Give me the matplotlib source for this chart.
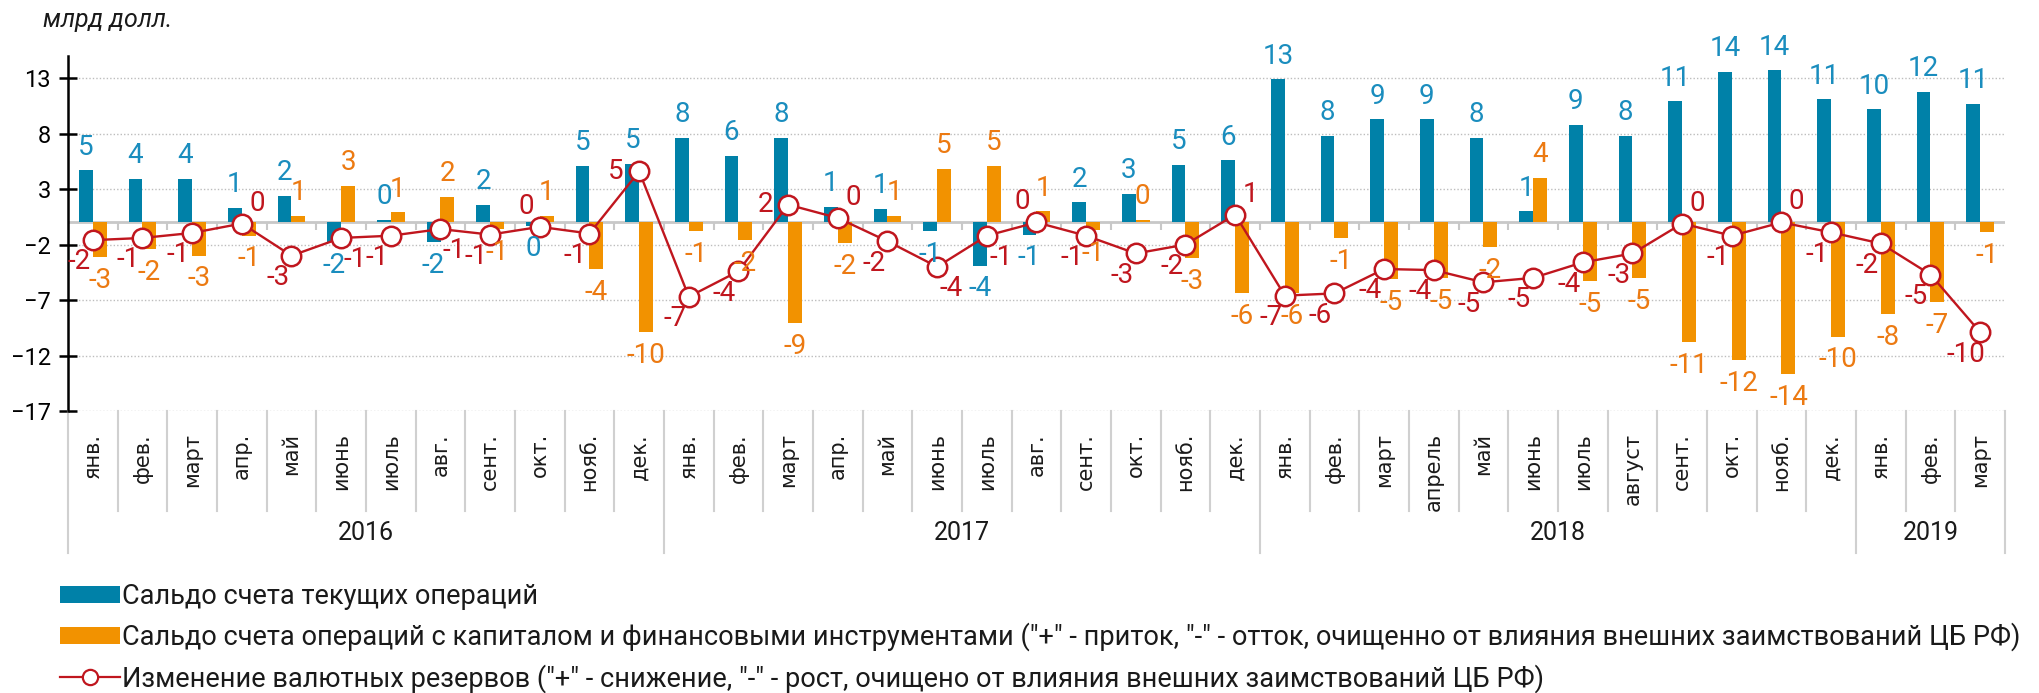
import numpy as np
import matplotlib
matplotlib.use('Agg')
from matplotlib import pyplot as plt
from matplotlib import font_manager
from matplotlib import transforms as mtransforms
from matplotlib.lines import Line2D
from matplotlib.patches import Patch


def pick_font(names):
    """Return the first installed family out of names."""
    for name in names:
        try:
            font_manager.findfont(name, fallback_to_default=False)
            return name
        except ValueError:
            continue
    return 'DejaVu Sans'


NARROW = pick_font(['Liberation Sans Narrow', 'Roboto', 'Open Sans'])
plt.rcParams['font.family'] = [NARROW, 'DejaVu Sans']

# --- data (млрд долл.) ---
years = ['2016', '2017', '2018', '2019']
year_len = [12, 12, 12, 3]
months = ['янв.', 'фев.', 'март', 'апр.', 'май', 'июнь', 'июль', 'авг.',
          'сент.', 'окт.', 'нояб.', 'дек.',
          'янв.', 'фев.', 'март', 'апр.', 'май', 'июнь', 'июль', 'авг.',
          'сент.', 'окт.', 'нояб.', 'дек.',
          'янв.', 'фев.', 'март', 'апрель', 'май', 'июнь', 'июль', 'август',
          'сент.', 'окт.', 'нояб.', 'дек.',
          'янв.', 'фев.', 'март']
current = [4.7, 3.9, 3.9, 1.3, 2.4, -1.8, 0.25, -1.8, 1.6, -0.3, 5.1, 5.3,
           7.6, 6.0, 7.6, 1.4, 1.2, -0.8, -3.9, -1.1, 1.8, 2.6, 5.2, 5.6,
           12.9, 7.8, 9.3, 9.3, 7.6, 1.0, 8.8, 7.8, 10.9, 13.6, 13.7, 11.1,
           10.2, 11.8, 10.7]
capital = [-3.1, -2.4, -3.0, -1.2, 0.6, 3.3, 0.9, 2.3, -0.6, 0.6, -4.2, -9.9,
           -0.8, -1.6, -9.1, -1.9, 0.6, 4.8, 5.1, 1.0, -0.7, 0.2, -3.2, -6.4,
           -6.4, -1.4, -5.1, -5.0, -2.2, 4.0, -5.3, -5.0, -10.8, -12.4, -13.7,
           -10.3, -8.3, -7.2, -0.9]
reserves = [-1.6, -1.4, -0.95, -0.1, -3.0, -1.4, -1.2, -0.6, -1.1, -0.4, -1.0,
            4.6,
            -6.7, -4.4, 1.6, 0.4, -1.7, -4.0, -1.2, 0.0, -1.2, -2.8, -2.0, 0.7,
            -6.6, -6.4, -4.2, -4.3, -5.4, -5.0, -3.6, -2.8, -0.1, -1.2, 0.0,
            -0.9,
            -1.9, -4.7, -9.9]
y_ticks = [13, 8, 3, -2, -7, -12, -17]

legend_labels = [
    'Сальдо счета текущих операций',
    'Сальдо счета операций с капиталом и финансовыми инструментами '
    '("+" - приток, "-" - отток, очищенно от влияния внешних '
    'заимствований ЦБ РФ)',
    'Изменение валютных резервов ("+" - снижение, "-" - рост, очищено от '
    'влияния внешних заимствований ЦБ РФ)',
]

BLUE = '#0081A8'
ORANGE = '#F29200'
RED = '#C0161E'
BLUE_TXT = '#1A8DBE'
ORANGE_TXT = '#EC7A12'

fig = plt.figure(figsize=(20.4, 6.93), dpi=100)
ax = fig.add_axes([68 / 2040, 1 - 411 / 693, (2005 - 68) / 2040, 355 / 693])

n = len(months)
x = np.arange(n)
bw = 0.28

ax.bar(x - bw / 2, current, width=bw, color=BLUE, zorder=3)
ax.bar(x + bw / 2, capital, width=bw, color=ORANGE, zorder=3)
ax.plot(x, reserves, color=RED, lw=1.7, marker='o', ms=14,
        mfc='white', mec=RED, mew=1.8, zorder=5)

ax.set_xlim(-0.5, n - 0.5)
ax.set_ylim(-17, 15)

# grid + zero line
for yt in y_ticks:
    ax.axhline(yt, color='#BDBDBD', lw=1, ls=(0, (1, 1.5)), zorder=1)
ax.axhline(0, color='#C8C8C8', lw=2, zorder=2)
bounds = np.arange(n + 1) - 0.5
ax.vlines(bounds[1:-1], -0.7, 0, color='#C8C8C8', lw=1.5, zorder=2)

# y axis
for side in ['top', 'right', 'bottom']:
    ax.spines[side].set_visible(False)
ax.spines['left'].set_linewidth(1.8)
ax.set_yticks(y_ticks)
ax.tick_params(axis='y', direction='inout', length=13, width=1.8,
               labelsize=17, pad=6)
ax.set_xticks([])


# data labels
def fmt(v):
    return f'{int(round(v))}'


for xi, v in zip(x, current):
    up = v >= 0
    ax.annotate(fmt(v), (xi - bw / 2, v), xytext=(0, 7 if up else -7),
                textcoords='offset points', ha='center',
                va='bottom' if up else 'top', color=BLUE_TXT, fontsize=20,
                zorder=6)
for xi, v in zip(x, capital):
    up = v >= 0
    ax.annotate(fmt(v), (xi + bw / 2, v), xytext=(0, 7 if up else -7),
                textcoords='offset points', ha='center',
                va='bottom' if up else 'top', color=ORANGE_TXT, fontsize=20,
                zorder=6)
# red labels sit on the side that is free of the bar labels
for xi, v, cur, cap in zip(x, reserves, current, capital):
    r = int(round(v))
    if r > 0 and v >= 1.5:
        off, ha, va = (-11, 0), 'right', 'center'
    elif r >= 0:
        off, ha, va = ((-10, 5), 'center', 'bottom') if cap > 0 \
            else ((11, 5), 'center', 'bottom')
    else:
        off, ha, va = ((10, -6), 'center', 'top') if cur < 0 \
            else ((-10, -6), 'center', 'top')
    ax.annotate(fmt(v), (xi, v), xytext=off, textcoords='offset points',
                ha=ha, va=va, color=RED, fontsize=20, zorder=6)

# category axis below the plot
trans = mtransforms.blended_transform_factory(ax.transData, ax.transAxes)
year_edges = np.concatenate([[0], np.cumsum(year_len)]) - 0.5
for b in bounds:
    is_year = np.any(np.isclose(year_edges, b))
    ax.plot([b, b], [0, -0.40 if is_year else -0.282], transform=trans,
            color='#D0D0D0', lw=1.5, clip_on=False)
for xi, m in zip(x, months):
    ax.text(xi, -0.062, m, transform=trans, rotation=90, ha='center',
            va='top', fontsize=15, family='DejaVu Sans', color='#1A1A1A')
for i, yr in enumerate(years):
    mid = (year_edges[i] + year_edges[i + 1]) / 2
    ax.text(mid, -0.344, yr, transform=trans, ha='center', va='center',
            fontsize=18, color='#1A1A1A')

fig.text(43 / 2040, 1 - 20 / 693, 'млрд долл.', style='italic', fontsize=18,
         va='center', ha='left', color='#1A1A1A')

handles = [
    Patch(facecolor=BLUE, edgecolor='none'),
    Patch(facecolor=ORANGE, edgecolor='none'),
    Line2D([], [], color=RED, lw=1.6, marker='o', ms=11, mfc='white',
           mec=RED, mew=1.6),
]
fig.legend(handles, legend_labels, loc='upper left',
           bbox_to_anchor=(60 / 2040, 1 - 583 / 693), frameon=False,
           fontsize=19.5, handlelength=2.2, handleheight=0.6,
           handletextpad=0.1, labelspacing=0.47, borderaxespad=0,
           borderpad=0, labelcolor='#1A1A1A')

fig.savefig('out.png', dpi=100)
